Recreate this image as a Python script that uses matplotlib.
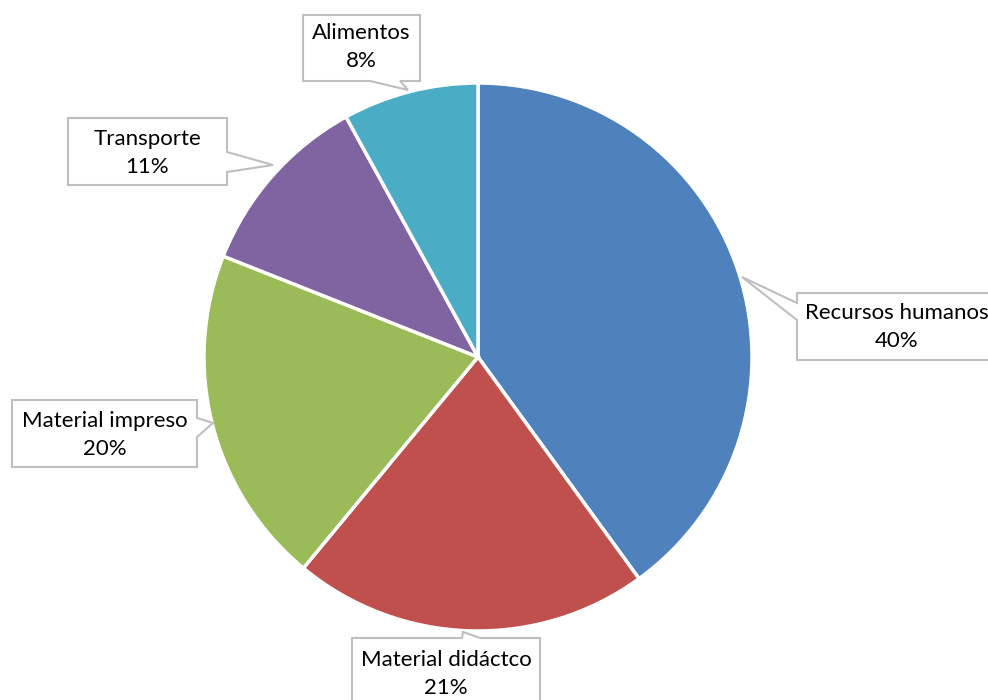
import matplotlib
matplotlib.use("Agg")
import matplotlib.pyplot as plt
from matplotlib.patches import Polygon

categories = ["Recursos humanos", "Material didáctco", "Material impreso", "Transporte", "Alimentos"]
values = [40, 21, 20, 11, 8]
pct_labels = ["40%", "21%", "20%", "11%", "8%"]
colors = ["#4F81BD", "#C0504D", "#9BBB59", "#8064A2", "#4BACC6"]

W, H = 988, 700
fig = plt.figure(figsize=(W / 100, H / 100), dpi=100)
ax = fig.add_axes([0, 0, 1, 1])
ax.set_xlim(0, W)
ax.set_ylim(0, H)
ax.set_aspect("equal")
ax.axis("off")

cx, cy, R = 478, H - 357, 274
ax.pie(values, colors=colors, startangle=90, counterclock=False,
       center=(cx, cy), radius=R, frame=False,
       wedgeprops=dict(edgecolor="white", linewidth=2.5))
ax.set_xlim(0, W)
ax.set_ylim(0, H)

# callout layout (pixel coords, y downward): box (x0, y0, x1, y1), side, pointer base (a, b), tip, text centre
callouts = {
    "Recursos humanos": ((797, 293, 1010, 360), "left", (303, 320), (742, 277), (897, 327)),
    "Material didáctco": ((352, 638, 540, 720), "top", (462, 480), (463, 632), (446, 674)),
    "Material impreso": ((12, 400, 197, 467), "right", (418, 437), (213, 423), (105, 435)),
    "Transporte": ((68, 118, 227, 185), "right", (152, 172), (273, 165), (147, 153)),
    "Alimentos": ((303, 15, 420, 81), "bottom", (370, 400), (408, 90), (361, 47)),
}

def fy(y):
    return H - y

def callout_poly(box, side, base, tip):
    x0, y0, x1, y1 = box
    a, b = base
    tx, ty = tip
    if side == "left":
        pts = [(x0, y0), (x1, y0), (x1, y1), (x0, y1), (x0, b), (tx, ty), (x0, a)]
    elif side == "right":
        pts = [(x0, y0), (x1, y0), (x1, a), (tx, ty), (x1, b), (x1, y1), (x0, y1)]
    elif side == "top":
        pts = [(x0, y0), (a, y0), (tx, ty), (b, y0), (x1, y0), (x1, y1), (x0, y1)]
    else:  # bottom
        pts = [(x0, y0), (x1, y0), (x1, y1), (b, y1), (tx, ty), (a, y1), (x0, y1)]
    return [(px, fy(py)) for px, py in pts]

font = ["Lato", "DejaVu Sans"]
for cat, pct in zip(categories, pct_labels):
    box, side, base, tip, tc = callouts[cat]
    poly = Polygon(callout_poly(box, side, base, tip), closed=True,
                   facecolor="white", edgecolor="#BFBFBF", linewidth=1.5, zorder=5)
    ax.add_patch(poly)
    ax.text(tc[0], fy(tc[1]), f"{cat}\n{pct}", ha="center", va="center",
            fontsize=16, family=font, color="black", linespacing=1.55, zorder=6)

fig.savefig("out.png", dpi=100)
